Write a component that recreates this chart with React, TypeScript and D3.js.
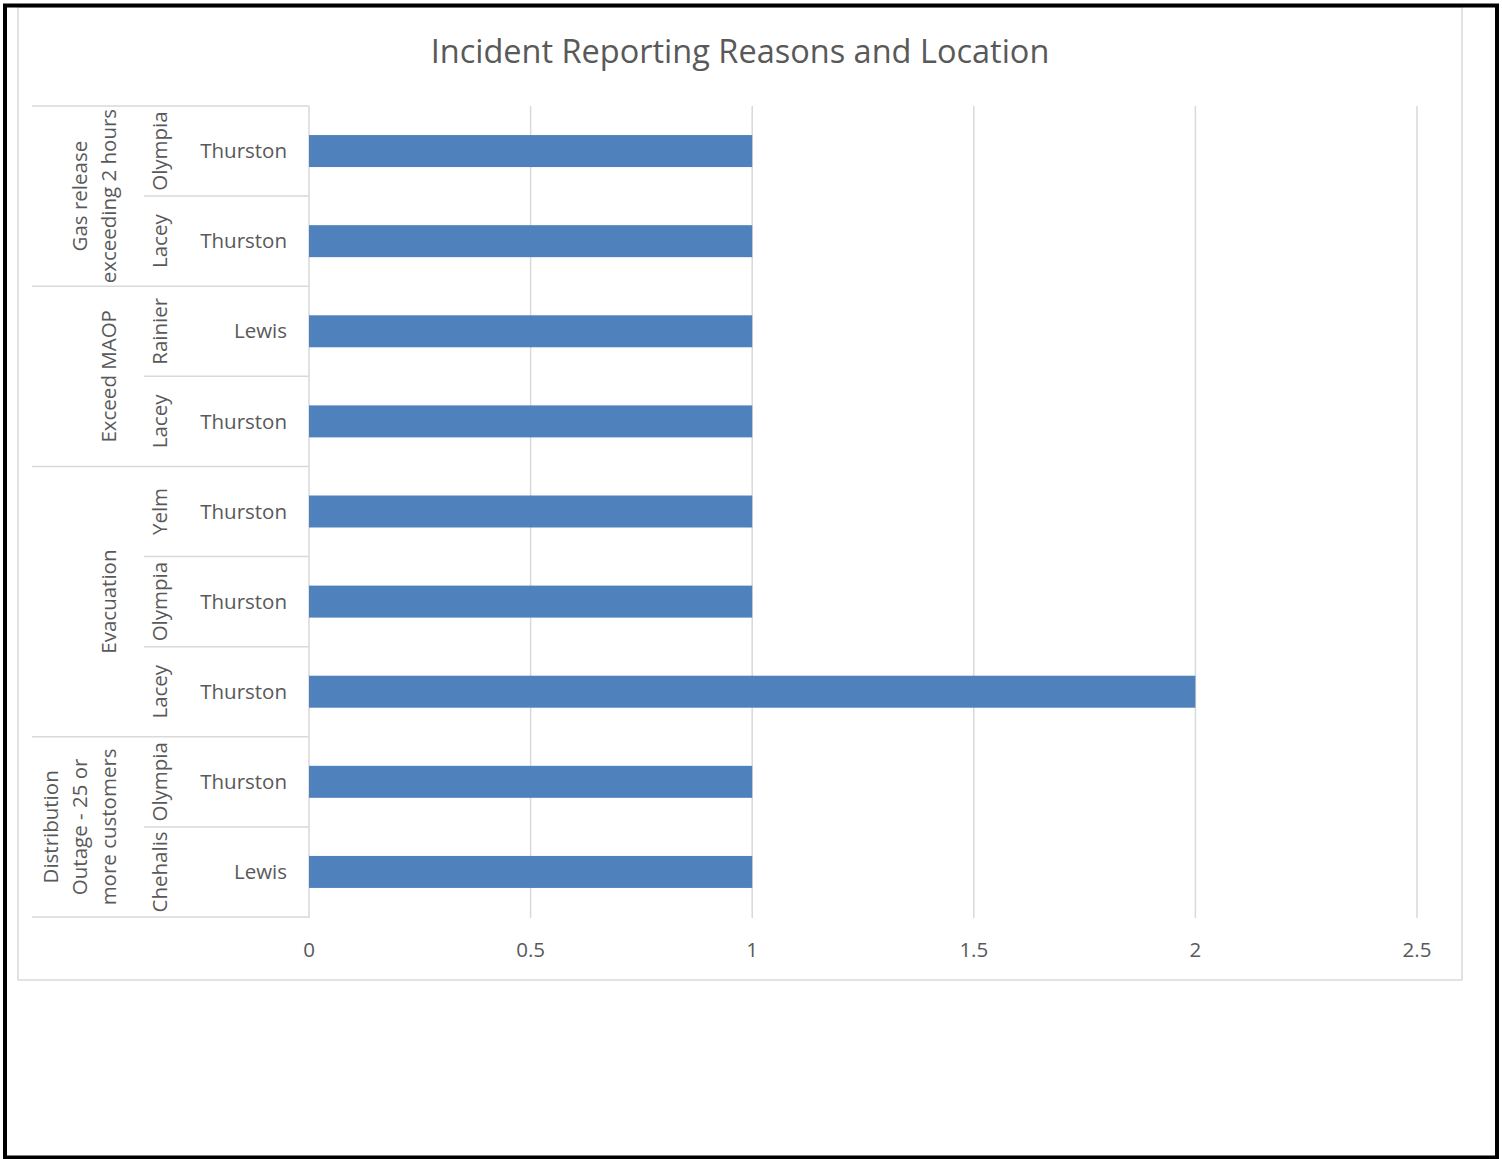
import * as d3 from 'd3';

// rows listed top to bottom
const reasons = [
  'Gas release exceeding 2 hours',
  'Gas release exceeding 2 hours',
  'Exceed MAOP',
  'Exceed MAOP',
  'Evacuation',
  'Evacuation',
  'Evacuation',
  'Distribution Outage - 25 or more customers',
  'Distribution Outage - 25 or more customers',
];
const cities = ['Olympia', 'Lacey', 'Rainier', 'Lacey', 'Yelm', 'Olympia', 'Lacey', 'Olympia', 'Chehalis'];
const counties = ['Thurston', 'Thurston', 'Lewis', 'Thurston', 'Thurston', 'Thurston', 'Thurston', 'Thurston', 'Lewis'];
const counts = [1, 1, 1, 1, 1, 1, 2, 1, 1];
const xTicks = [0, 0.5, 1, 1.5, 2, 2.5];

// how Excel wrapped the outer labels
const reasonNames = ['Gas release exceeding 2 hours', 'Exceed MAOP', 'Evacuation', 'Distribution Outage - 25 or more customers'];
const reasonLines = [['Gas release', 'exceeding 2 hours'], ['Exceed MAOP'], ['Evacuation'], ['Distribution', 'Outage - 25 or', 'more customers']];

const W = 1502;
const H = 1159;
const TEXT = '#595959';
const GRID = '#d9d9d9';
const FONT = '"Open Sans", sans-serif';
const FS = 20.5;

export default function App() {
  const top = 106;
  const bottom = 917;
  const rows = d3.range(counts.length);

  const x = d3.scaleLinear().domain([0, 2.5]).range([309, 1417]);
  const y = d3.scaleBand<number>().domain(rows).range([top, bottom]).paddingInner(0.645).paddingOuter(0.3225);
  const step = y.step();

  // group spans
  const groups = reasonNames.map((name, gi) => {
    const idx = rows.filter((i) => reasons[i] === name);
    const y0 = top + d3.min(idx)! * step;
    const y1 = top + (d3.max(idx)! + 1) * step;
    return { name, lines: reasonLines[gi], y0, y1, mid: (y0 + y1) / 2 };
  });

  const boundaries = d3.range(counts.length + 1).map((i) => {
    const yy = top + i * step;
    const outer = i === 0 || i === counts.length || reasons[i] !== reasons[i - 1];
    return { yy, x0: outer ? 32 : 144 };
  });

  return (
    <div style={{ position: 'absolute', left: 0, top: 0 }}>
      <svg width={W} height={H} style={{ display: 'block', background: '#fff' }} fontFamily={FONT}>
        <rect x={18} y={7} width={1444} height={973} fill="#fff" stroke={GRID} strokeWidth={1.5} />
        <rect x={5} y={5.5} width={1492} height={1152} fill="none" stroke="#000" strokeWidth={4} />

        <text x={740} y={63} textAnchor="middle" fontSize={32.5} fill={TEXT}>
          Incident Reporting Reasons and Location
        </text>

        {/* gridlines */}
        {xTicks.map((t) => (
          <line key={t} x1={x(t)} x2={x(t)} y1={top} y2={bottom + 1} stroke={GRID} strokeWidth={1.5} />
        ))}

        {/* category table lines */}
        {boundaries.map((b, i) => (
          <line key={i} x1={b.x0} x2={x(0)} y1={b.yy} y2={b.yy} stroke={GRID} strokeWidth={1.5} />
        ))}

        {/* bars */}
        {rows.map((i) => (
          <rect key={i} x={x(0)} y={y(i)} width={x(counts[i]) - x(0)} height={y.bandwidth()} fill="#4f81bd" />
        ))}

        {/* county labels */}
        {rows.map((i) => (
          <text key={'c' + i} x={287} y={y(i)! + y.bandwidth() / 2} dy="0.35em" textAnchor="end" fontSize={FS} fill={TEXT}>
            {counties[i]}
          </text>
        ))}

        {/* city labels */}
        {rows.map((i) => (
          <text key={'t' + i} transform={`translate(167,${top + (i + 0.5) * step}) rotate(-90)`} textAnchor="middle" fontSize={FS} fill={TEXT}>
            {cities[i]}
          </text>
        ))}

        {/* reason labels */}
        {groups.map((g) => (
          <g key={g.name}>
            {g.lines.map((ln, li) => (
              <text
                key={li}
                transform={`translate(${116 - (g.lines.length - 1 - li) * 29},${g.mid}) rotate(-90)`}
                textAnchor="middle"
                fontSize={FS}
                fill={TEXT}
              >
                {ln}
              </text>
            ))}
          </g>
        ))}

        {/* x tick labels */}
        {xTicks.map((t) => (
          <text key={'x' + t} x={x(t)} y={957} textAnchor="middle" fontSize={FS} fill={TEXT}>
            {d3.format('~g')(t)}
          </text>
        ))}
      </svg>
    </div>
  );
}
